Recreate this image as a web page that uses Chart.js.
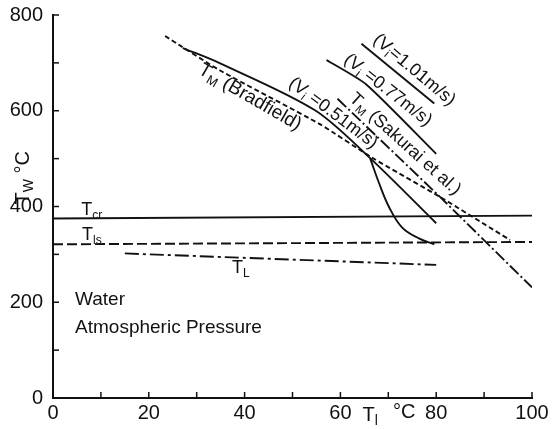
<!DOCTYPE html>
<html>
<head>
<meta charset="utf-8">
<script src="https://cdn.jsdelivr.net/npm/chart.js@4/dist/chart.umd.min.js"></script>
<style>
  html, body { margin: 0; padding: 0; background: #fff; }
  #wrap { width: 560px; height: 429px; }
</style>
</head>
<body>
<div id="wrap"><canvas id="chart" width="560" height="429"></canvas></div>
<script>
// DATA
const xTicks = [0, 20, 40, 60, 80, 100];
const yTicks = [0, 200, 400, 600, 800];

const tcrX = [0, 100];
const tcrY = [375, 381];
const tlsX = [0, 100];
const tlsY = [321, 326];
const tlX = [15, 80];
const tlY = [302, 278];

const bradX = [23.4, 34.9, 55.7, 66.6, 80.8, 95.4];
const bradY = [756, 684, 572, 502, 420, 330];

const v051X = [27.1, 34.9, 54.7, 66.2, 80];
const v051Y = [731, 699, 601, 501, 365];

const branchX = [66.2, 68.1, 70.2, 72.9, 76.5, 79.6];
const branchY = [501, 448, 398, 356, 333, 321];

const sakuraiX = [59.4, 80.8, 100];
const sakuraiY = [625, 420, 231];

const v077X = [57.1, 65.4, 80];
const v077Y = [706, 655, 510];

const v101X = [64.4, 79.6];
const v101Y = [740, 615];

const INK = '#111';
const FONT = '"Liberation Sans", Arial, sans-serif';

function pts(xs, ys) { return xs.map((x, i) => ({ x: x, y: ys[i] })); }

function line(xs, ys, dash, tension) {
  return {
    data: pts(xs, ys),
    showLine: true,
    borderColor: INK,
    borderWidth: 1.9,
    borderDash: dash || [],
    pointRadius: 0,
    tension: tension || 0,
    fill: false
  };
}

// text pieces: [text, isSubscript]
function drawRich(ctx, parts, x, y, size, angle, align) {
  ctx.save();
  ctx.translate(x, y);
  ctx.rotate((angle || 0) * Math.PI / 180);
  let w = 0;
  parts.forEach(p => {
    ctx.font = (p[1] ? Math.round(size * 0.68) : size) + 'px ' + FONT;
    w += ctx.measureText(p[0]).width;
  });
  let cx = align === 'left' ? 0 : -w / 2;
  ctx.fillStyle = INK;
  ctx.textBaseline = 'middle';
  ctx.textAlign = 'left';
  parts.forEach(p => {
    ctx.font = (p[1] ? Math.round(size * 0.68) : size) + 'px ' + FONT;
    ctx.fillText(p[0], cx, p[1] ? size * 0.3 : 0);
    cx += ctx.measureText(p[0]).width;
  });
  ctx.restore();
}

const notes = [
  { x: 8.1, y: 392, parts: [['T'], ['cr', 1]], size: 18, angle: 0 },
  { x: 8.1, y: 340, parts: [['T'], ['ls', 1]], size: 18, angle: 0 },
  { x: 39.2, y: 271, parts: [['T'], ['L', 1]], size: 18, angle: 0 },
  { x: 41.1, y: 628, parts: [['T'], ['M', 1], [' (Bradfield)']], size: 19, angle: 30 },
  { x: 58.5, y: 595, parts: [['(V'], ['i', 1], [' =0.51m/s)']], size: 18, angle: 37 },
  { x: 73.5, y: 530, parts: [['T'], ['M', 1], [' (Sakurai et al.)']], size: 18, angle: 42 },
  { x: 69.9, y: 643, parts: [['(V'], ['i', 1], [' =0.77m/s)']], size: 18, angle: 38 },
  { x: 75.4, y: 685, parts: [['(V'], ['i', 1], ['=1.01m/s)']], size: 18, angle: 40 },
  { x: 4.6, y: 205, parts: [['Water']], size: 19, angle: 0, align: 'left' },
  { x: 4.6, y: 146, parts: [['Atmospheric Pressure']], size: 19, angle: 0, align: 'left' }
];

const decor = {
  id: 'decor',
  afterDraw(chart) {
    const ctx = chart.ctx;
    const xs = chart.scales.x, ys = chart.scales.y;
    const area = chart.chartArea;
    // inward tick marks
    ctx.save();
    ctx.strokeStyle = INK;
    ctx.lineWidth = 1.5;
    xs.ticks.forEach(t => {
      const px = xs.getPixelForValue(t.value);
      ctx.beginPath(); ctx.moveTo(px, area.bottom); ctx.lineTo(px, area.bottom - 6); ctx.stroke();
    });
    ys.ticks.forEach(t => {
      const py = ys.getPixelForValue(t.value);
      ctx.beginPath(); ctx.moveTo(area.left, py); ctx.lineTo(area.left + 6, py); ctx.stroke();
    });
    ctx.restore();
    // curve labels
    notes.forEach(n => {
      drawRich(ctx, n.parts, xs.getPixelForValue(n.x), ys.getPixelForValue(n.y), n.size, n.angle, n.align);
    });
    // axis titles
    drawRich(ctx, [['T'], ['W', 1], [' °C']], area.left - 30, ys.getPixelForValue(460), 20, -90);
    drawRich(ctx, [['T'], ['l', 1]], xs.getPixelForValue(66.2), area.bottom + 17, 20, 0);
    drawRich(ctx, [['°C']], xs.getPixelForValue(73.3), area.bottom + 14, 20, 0);
  }
};

new Chart(document.getElementById('chart'), {
  type: 'scatter',
  data: {
    datasets: [
      line(tcrX, tcrY),
      line(tlsX, tlsY, [10, 4]),
      line(tlX, tlY, [14, 4, 3, 4]),
      line(bradX, bradY, [5, 3], 0.2),
      line(v051X, v051Y, [], 0.3),
      line(branchX, branchY, [], 0.4),
      line(sakuraiX, sakuraiY, [12, 3, 2, 3]),
      line(v077X, v077Y, [], 0.2),
      line(v101X, v101Y)
    ]
  },
  options: {
    responsive: false,
    animation: false,
    layout: { padding: { top: 15, right: 28, left: 0, bottom: 0 } },
    plugins: { legend: { display: false }, tooltip: { enabled: false } },
    scales: {
      x: {
        type: 'linear', min: 0, max: 100,
        afterFit(s) { s.height = 31; },
        grid: { display: false },
        border: { display: true, color: INK, width: 2 },
        ticks: {
          stepSize: 10, color: INK, padding: -5, maxRotation: 0, autoSkip: false,
          font: { family: FONT, size: 20 },
          callback: v => xTicks.includes(v) ? String(v) : ''
        }
      },
      y: {
        type: 'linear', min: 0, max: 800,
        afterFit(s) { s.width = 53; },
        grid: { display: false },
        border: { display: true, color: INK, width: 2 },
        ticks: {
          stepSize: 100, color: INK, padding: 2, autoSkip: false,
          font: { family: FONT, size: 20 },
          callback: v => yTicks.includes(v) ? String(v) : ''
        }
      }
    }
  },
  plugins: [decor]
});
</script>
</body>
</html>
